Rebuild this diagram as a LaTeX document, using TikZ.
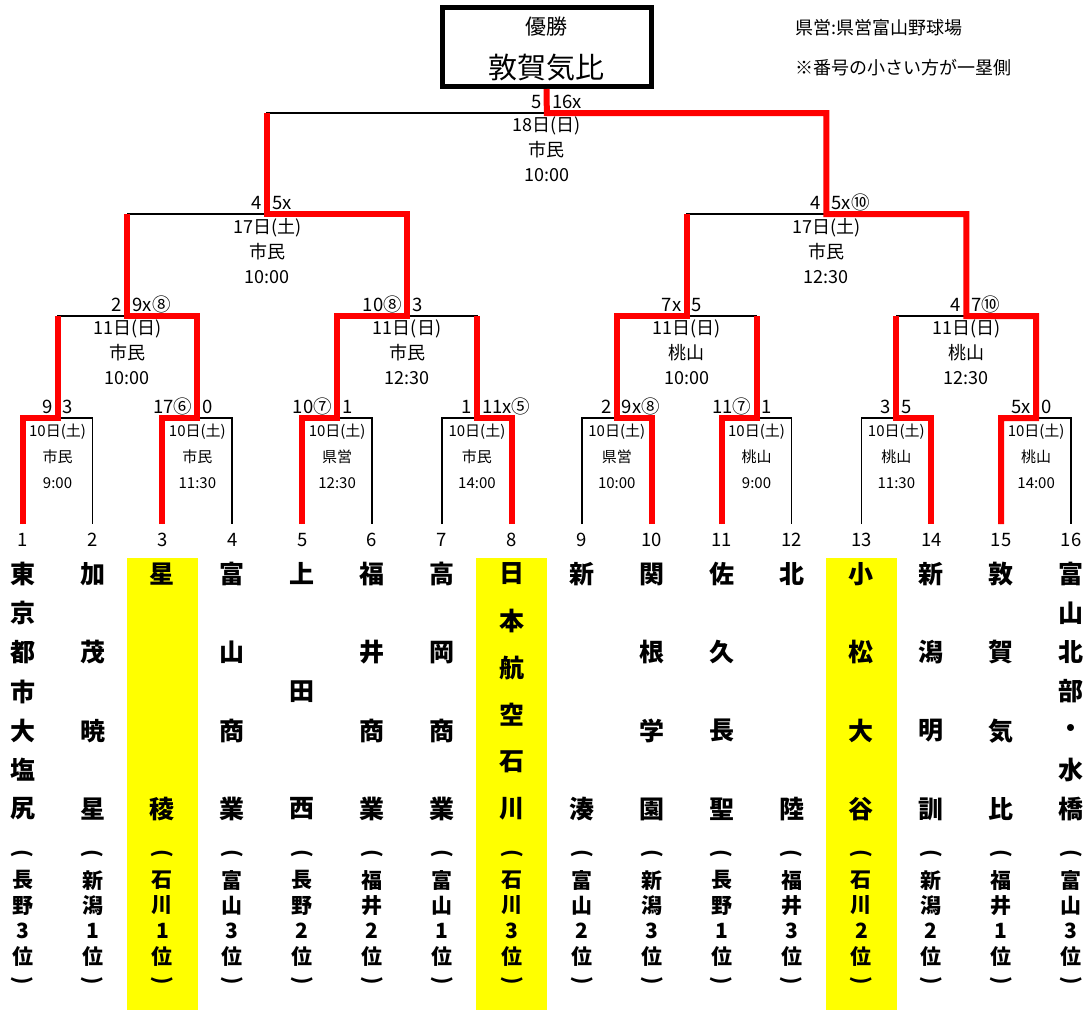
\documentclass[tikz,border=0pt]{standalone}
\usepackage{fontspec}
\usepackage{graphicx}
\setmainfont{Noto Sans CJK JP}
\usetikzlibrary{positioning}
\definecolor{winred}{RGB}{255,0,0}
\definecolor{seedyellow}{RGB}{255,255,0}
\newcommand{\vlp}{\rotatebox[origin=c]{-90}{(}}
\newcommand{\vrp}{\rotatebox[origin=c]{-90}{)}}
\tikzset{
  bracket/.style={line width=1.7pt},
  winpath/.style={winred, line width=6pt},
  score/.style={font=\fontsize{18.5}{18.5}\selectfont, inner sep=0pt},
  info/.style={font=\fontsize{18}{25}\selectfont, align=center, inner sep=0pt, anchor=north},
  infosmall/.style={font=\fontsize{15}{26}\selectfont, align=center, inner sep=0pt, anchor=north},
  slot/.style={font=\fontsize{18.5}{18.5}\selectfont, inner sep=0pt},
  school/.style={font=\bfseries\fontsize{25}{25}\selectfont, inner sep=0pt},
  pref/.style={font=\bfseries\fontsize{21}{21}\selectfont, inner sep=0pt},
  note/.style={font=\fontsize{18}{18}\selectfont, inner sep=0pt, anchor=west},
  champbox/.style={draw, line width=5pt, minimum width=209pt, minimum height=79pt, inner sep=0pt}
}
\begin{document}
\begin{tikzpicture}[x=1pt, y=-1pt]
  \useasboundingbox (0,0) rectangle (1089,1010);

  % highlighted schools
  \foreach \i in {3,8,13}
    \fill[seedyellow] ({22.6+(\i-1)*69.9-35.5},558) rectangle ++(71,452);

  % slots and bracket points
  \foreach \i in {1,...,16} {
    \coordinate (f\i) at ({22.6+(\i-1)*69.9},524);
    \node[slot] (n\i) at ({22.6+(\i-1)*69.9},540) {\i};
  }
  \foreach \k in {1,...,8} \coordinate (m\k) at ({22.6+(2*\k-1.5)*69.9},418);
  \foreach \k in {1,...,4} \coordinate (q\k) at ({22.6+(4*\k-2.5)*69.9},316);
  \foreach \k in {1,2} \coordinate (s\k) at ({22.6+(8*\k-4.5)*69.9},214);
  \coordinate (fin) at ({22.6+7.5*69.9},113);

  \node[champbox] (champ) at (546.5,47) {};
  \node[font=\fontsize{21}{21}\selectfont, inner sep=0pt] (yusho) at (546.5,27) {優勝};
  \node[font=\fontsize{29}{29}\selectfont, inner sep=0pt] (winner) at (546.5,68) {敦賀気比};

  \node[note] (venuenote) at (795,28) {県営:県営富山野球場};
  \node[note] (sidenote) at (795,68) {※番号の小さい方が一塁側};

  % bracket lines
  \foreach \a/\j/\b in {f1/m1/f2,f3/m2/f4,f5/m3/f6,f7/m4/f8,f9/m5/f10,f11/m6/f12,f13/m7/f14,f15/m8/f16,
      m1/q1/m2,m3/q2/m4,m5/q3/m6,m7/q4/m8,q1/s1/q2,q3/s2/q4,s1/fin/s2}
    \draw[bracket] (\a) |- (\j) -| (\b);

  % winners
  \draw[winpath] (f1) |- (m1) -- (m1 |- q1);
  \draw[winpath] (f3) |- (m2) |- (q1) -- (q1 |- s1);
  \draw[winpath] (f5) |- (m3) |- (q2) |- (s1) -- (s1 |- fin);
  \draw[winpath] (f8) |- (m4) -- (m4 |- q2);
  \draw[winpath] (f10) |- (m5) |- (q3) -- (q3 |- s2);
  \draw[winpath] (f11) |- (m6) -- (m6 |- q3);
  \draw[winpath] (f14) |- (m7) -- (m7 |- q4);
  \draw[winpath] (f15) |- (m8) |- (q4) |- (s2) |- (fin) -- (champ.south);

  % scores
  \foreach \j/\lsc/\rsc in {m1/9/3,m2/17⑥/0,m3/10⑦/1,m4/1/11x⑤,m5/2/9x⑧,m6/11⑦/1,m7/3/5,m8/5x/0,
      q1/2/9x⑧,q2/10⑧/3,q3/7x/5,q4/4/7⑩,s1/4/5x,s2/4/5x⑩,fin/5/16x} {
    \node[score, anchor=base east] (\j-l) at ([shift={(-5pt,5pt)}]\j) {\lsc};
    \node[score, anchor=base west] (\j-r) at ([shift={(5pt,5pt)}]\j) {\rsc};
  }

  % dates, grounds, times
  \foreach \j/\mday/\site/\kickoff in {m1/10日(土)/市民/9:00,m2/10日(土)/市民/11:30,m3/10日(土)/県営/12:30,
      m4/10日(土)/市民/14:00,m5/10日(土)/県営/10:00,m6/10日(土)/桃山/9:00,m7/10日(土)/桃山/11:30,
      m8/10日(土)/桃山/14:00}
    \node[infosmall] (i-\j) at ([yshift=-6pt]\j) {\mday\\\site\\\kickoff};
  \foreach \j/\mday/\site/\kickoff in {q1/11日(日)/市民/10:00,q2/11日(日)/市民/12:30,q3/11日(日)/桃山/10:00,
      q4/11日(日)/桃山/12:30,s1/17日(土)/市民/10:00,s2/17日(土)/市民/12:30,fin/18日(日)/市民/10:00}
    \node[info] (i-\j) at ([yshift=-4pt]\j) {\mday\\\site\\\kickoff};

  % schools, written top to bottom
  \foreach \i/\n/\chars in {1/7/{東,京,都,市,大,塩,尻},2/4/{加,茂,暁,星},3/2/{星,稜},4/4/{富,山,商,業},
      5/3/{上,田,西},6/4/{福,井,商,業},7/4/{高,岡,商,業},8/6/{日,本,航,空,石,川},
      9/2/{新,湊},10/4/{関,根,学,園},11/4/{佐,久,長,聖},12/2/{北,陸},
      13/4/{小,松,大,谷},14/4/{新,潟,明,訓},15/4/{敦,賀,気,比},16/7/{富,山,北,部,・,水,橋}}
    \foreach[count=\k] \c in \chars
      \node[school] (c\i-\k) at ({22.6+(\i-1)*69.9},{574+(\k-1)*235/(\n-1)}) {\c};

  % prefecture and rank, written top to bottom
  \foreach \i/\pa/\pb/\rank in {1/長/野/3,2/新/潟/1,3/石/川/1,4/富/山/3,5/長/野/2,6/福/井/2,7/富/山/1,8/石/川/3,
      9/富/山/2,10/新/潟/3,11/長/野/1,12/福/井/3,13/石/川/2,14/新/潟/2,15/福/井/1,16/富/山/3}
    \foreach[count=\k] \c in {\vlp,\pa,\pb,\rank,位,\vrp}
      \node[pref] (p\i-\k) at ({22.6+(\i-1)*69.9},{855+(\k-1)*25.3}) {\c};
\end{tikzpicture}
\end{document}
